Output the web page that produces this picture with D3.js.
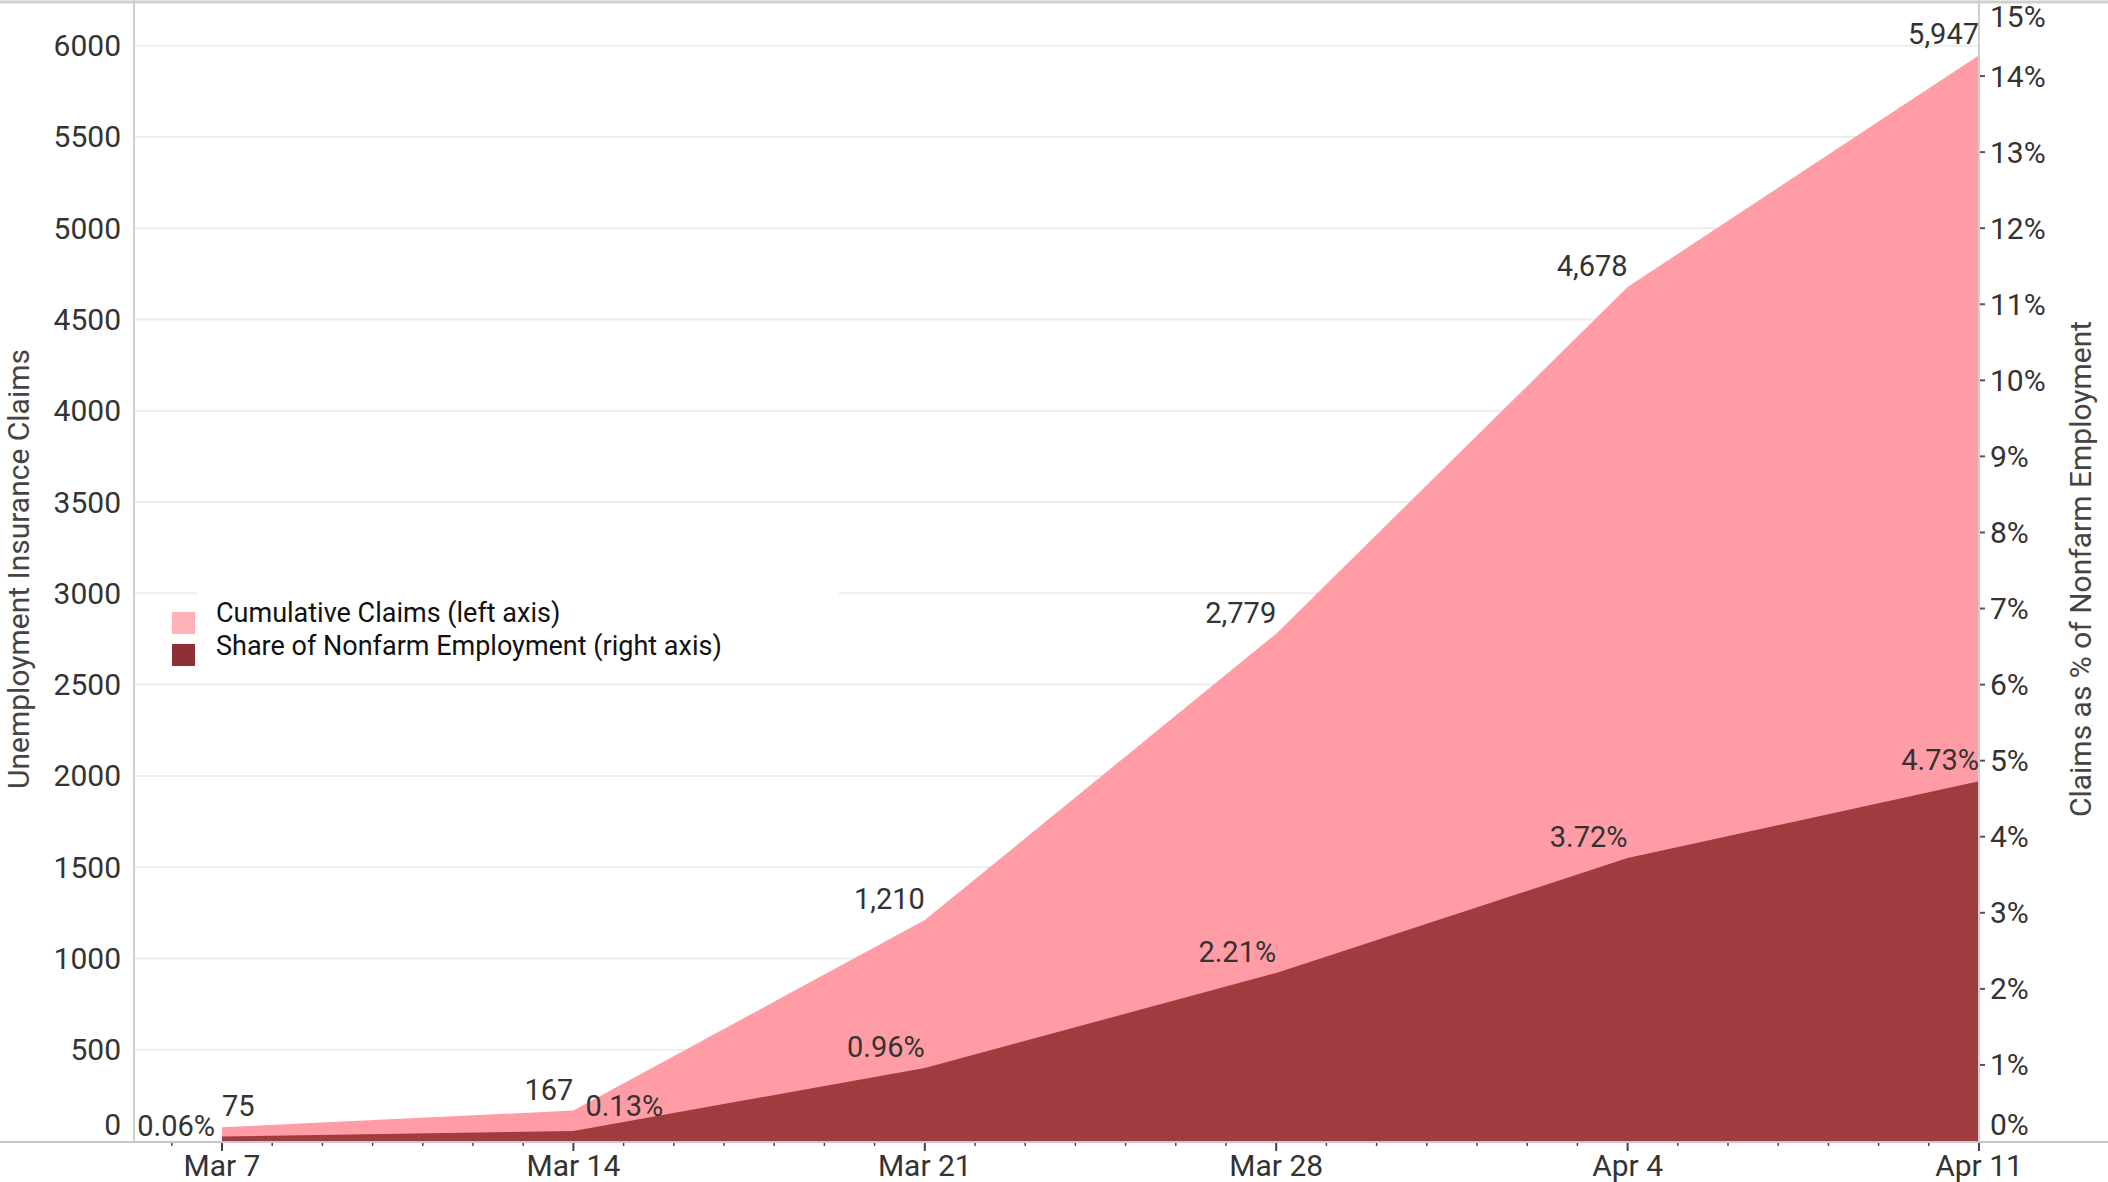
<!DOCTYPE html>
<html>
<head>
<meta charset="utf-8">
<script src="https://cdn.jsdelivr.net/npm/d3@7"></script>
<style>
  html, body { margin: 0; padding: 0; background: #fff; overflow: hidden; }
  svg { display: block; font-family: Roboto, "Noto Sans", sans-serif; }
</style>
</head>
<body>
<svg id="svg"></svg>
<script>
// Weekly cumulative claims and share of nonfarm employment
const weeks = ["2020-03-07", "2020-03-14", "2020-03-21", "2020-03-28", "2020-04-04", "2020-04-11"];
const claims = [75, 167, 1210, 2779, 4678, 5947];
const shares = [0.0006, 0.0013, 0.0096, 0.0221, 0.0372, 0.0473];
const leftTicks = [0, 500, 1000, 1500, 2000, 2500, 3000, 3500, 4000, 4500, 5000, 5500, 6000];
const rightTicks = [0, 0.01, 0.02, 0.03, 0.04, 0.05, 0.06, 0.07, 0.08, 0.09, 0.10, 0.11, 0.12, 0.13, 0.14, 0.15];
const legendLabels = ["Cumulative Claims (left axis)", "Share of Nonfarm Employment (right axis)"];

const width = 2108, height = 1182;
const plotLeft = 134, plotRight = 1979, plotBottom = 1141, plotTop = 0;
const pink = "#ff9ca5", dark = "#a03b40";
const textColor = "#333";

const parse = d3.timeParse("%Y-%m-%d");
const dates = weeks.map(parse);
const data = dates.map((d, i) => ({ date: d, claims: claims[i], share: shares[i] }));

const svg = d3.select("#svg").attr("width", width).attr("height", height);

const x = d3.scaleTime().domain([dates[0], dates[dates.length - 1]]).range([222, plotRight]);
const yLeft = d3.scaleLinear().domain([0, 6250]).range([plotBottom, plotTop]);
const yRight = d3.scaleLinear().domain([0, 0.15]).range([plotBottom, plotTop]);

// Gridlines
svg.append("g")
  .selectAll("line")
  .data(leftTicks.filter(t => t > 0))
  .join("line")
  .attr("x1", plotLeft).attr("x2", plotRight)
  .attr("y1", d => yLeft(d)).attr("y2", d => yLeft(d))
  .attr("stroke", "#ededed").attr("stroke-width", 2);

// Frame lines
svg.append("line").attr("x1", 0).attr("x2", width).attr("y1", 2).attr("y2", 2)
  .attr("stroke", "#cfcfcf").attr("stroke-width", 3);
svg.append("line").attr("x1", plotLeft).attr("x2", plotLeft).attr("y1", 0).attr("y2", plotBottom)
  .attr("stroke", "#cfcfcf").attr("stroke-width", 2);

// Areas
const claimsArea = d3.area()
  .x(d => x(d.date))
  .y0(yLeft(0))
  .y1(d => yLeft(d.claims));
const shareArea = d3.area()
  .x(d => x(d.date))
  .y0(yRight(0))
  .y1(d => yRight(d.share));

svg.append("path").datum(data).attr("d", claimsArea).attr("fill", pink);
svg.append("path").datum(data).attr("d", shareArea).attr("fill", dark);

svg.append("line").attr("x1", plotRight).attr("x2", plotRight).attr("y1", 0).attr("y2", plotBottom)
  .attr("stroke", "#cfcfcf").attr("stroke-width", 2);

// Left axis labels
const clampY = y => Math.min(Math.max(y, 16), 1124);
svg.append("g")
  .selectAll("text")
  .data(leftTicks)
  .join("text")
  .attr("x", 121)
  .attr("y", d => clampY(yLeft(d)))
  .attr("dy", "0.35em")
  .attr("text-anchor", "end")
  .attr("font-size", 30)
  .attr("fill", textColor)
  .text(d => d);

// Right axis labels and small ticks
const rightAxis = svg.append("g");
rightAxis.selectAll("line")
  .data(rightTicks.filter(t => t > 0 && t < 0.15))
  .join("line")
  .attr("x1", plotRight + 1).attr("x2", plotRight + 6)
  .attr("y1", d => yRight(d)).attr("y2", d => yRight(d))
  .attr("stroke", "#555").attr("stroke-width", 2);
rightAxis.selectAll("text")
  .data(rightTicks)
  .join("text")
  .attr("x", 1990)
  .attr("y", d => clampY(yRight(d)))
  .attr("dy", "0.35em")
  .attr("font-size", 30)
  .attr("fill", textColor)
  .text(d3.format(".0%"));

// Bottom axis
svg.append("line").attr("x1", 0).attr("x2", width).attr("y1", plotBottom + 1).attr("y2", plotBottom + 1)
  .attr("stroke", "#c8c8c8").attr("stroke-width", 2);
const days = d3.timeDay.range(d3.timeDay.offset(dates[0], -1), d3.timeDay.offset(dates[dates.length - 1], 1));
svg.append("g")
  .selectAll("line")
  .data(days)
  .join("line")
  .attr("x1", d => x(d)).attr("x2", d => x(d))
  .attr("y1", plotBottom + 2)
  .attr("y2", d => plotBottom + (dates.some(w => +w === +d) ? 10 : 5))
  .attr("stroke", "#444")
  .attr("stroke-width", d => dates.some(w => +w === +d) ? 2 : 1.5);
svg.append("g")
  .selectAll("text")
  .data(dates)
  .join("text")
  .attr("x", d => x(d))
  .attr("y", 1176)
  .attr("text-anchor", "middle")
  .attr("font-size", 30)
  .attr("fill", textColor)
  .text(d3.timeFormat("%b %-d"));

// Axis titles
svg.append("text")
  .attr("transform", `translate(29,569) rotate(-90)`)
  .attr("text-anchor", "middle")
  .attr("font-size", 30)
  .attr("fill", "#444")
  .text("Unemployment Insurance Claims");
svg.append("text")
  .attr("transform", `translate(2091,569) rotate(-90)`)
  .attr("text-anchor", "middle")
  .attr("font-size", 30)
  .attr("fill", "#444")
  .text("Claims as % of Nonfarm Employment");

// Data labels
const fmtComma = d3.format(",");
const fmtPct = d3.format(".2%");
svg.append("g")
  .selectAll("text")
  .data(data)
  .join("text")
  .attr("x", d => x(d.date))
  .attr("y", d => yLeft(d.claims) - 11)
  .attr("text-anchor", (d, i) => i === 0 ? "start" : "end")
  .attr("font-size", 29)
  .attr("fill", textColor)
  .text(d => fmtComma(d.claims));
svg.append("g")
  .selectAll("text")
  .data(data)
  .join("text")
  .attr("x", (d, i) => x(d.date) + (i === 0 ? -7 : i === 1 ? 12 : 0))
  .attr("y", (d, i) => yRight(d.share) - (i === 0 ? 0 : i === 1 ? 15 : 11))
  .attr("text-anchor", (d, i) => i === 1 ? "start" : "end")
  .attr("font-size", 29)
  .attr("fill", textColor)
  .text(d => fmtPct(d.share));

// Legend
const legend = svg.append("g");
legend.append("rect").attr("x", 197).attr("y", 590).attr("width", 642).attr("height", 78).attr("fill", "#fff");
const legendColors = ["#ffb1b8", "#8c3035"];
legendLabels.forEach((label, i) => {
  legend.append("rect")
    .attr("x", 172).attr("y", 612 + i * 32)
    .attr("width", 23).attr("height", 22)
    .attr("fill", legendColors[i]);
  legend.append("text")
    .attr("x", 216).attr("y", 622 + i * 33)
    .attr("font-size", 27)
    .attr("fill", "#111")
    .text(label);
});
</script>
</body>
</html>
